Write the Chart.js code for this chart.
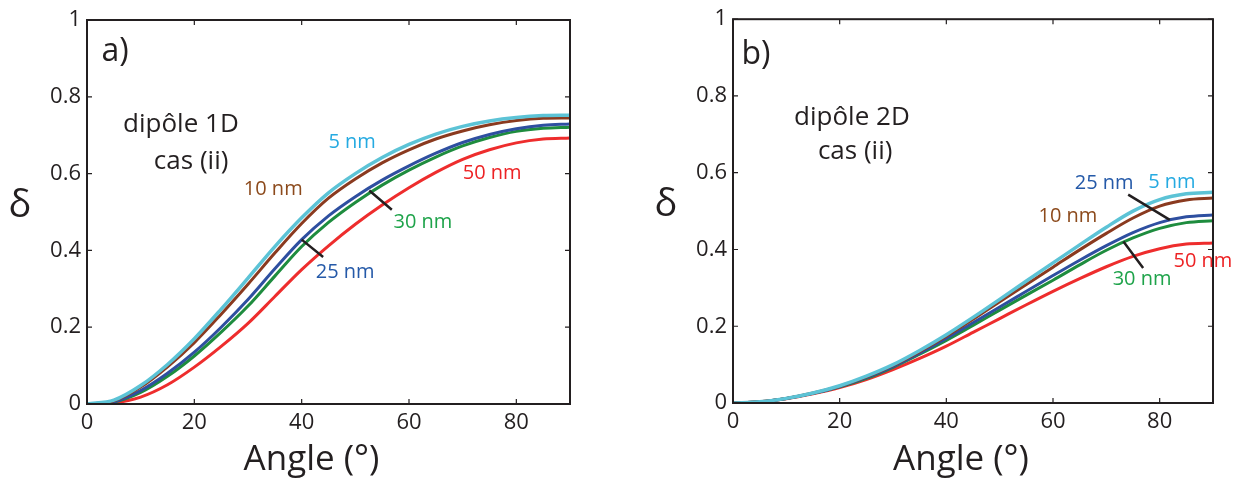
<!DOCTYPE html>
<html>
<head>
<meta charset="utf-8">
<script src="https://cdn.jsdelivr.net/npm/chart.js@4.4.0/dist/chart.umd.min.js"></script>
<style>
  html, body { margin: 0; padding: 0; background: #fff; }
  canvas { position: absolute; top: 0; }
  #chart1D { left: 0; }
  #chart2D { left: 620px; }
</style>
</head>
<body>
<canvas id="chart1D" width="620" height="485"></canvas>
<canvas id="chart2D" width="620" height="485"></canvas>
<script>
// angles (deg) and tick values
const angles = [0, 5, 10, 15, 20, 25, 30, 35, 40, 45, 50, 55, 60, 65, 70, 75, 80, 85, 90];
const xTicks = [0, 20, 40, 60, 80];
const yTicks = [0, 0.2, 0.4, 0.6, 0.8, 1];
const sizeNames = ["5 nm", "10 nm", "25 nm", "30 nm", "50 nm"];

// dipôle 1D, cas (ii)
const d1D_5nm  = [0, 0.010, 0.048, 0.103, 0.170, 0.247, 0.328, 0.410, 0.485, 0.550, 0.600, 0.642, 0.676, 0.703, 0.723, 0.737, 0.746, 0.751, 0.752];
const d1D_10nm = [0, 0.008, 0.044, 0.097, 0.160, 0.234, 0.312, 0.393, 0.470, 0.536, 0.586, 0.628, 0.662, 0.690, 0.711, 0.727, 0.738, 0.744, 0.745];
const d1D_25nm = [0, 0.006, 0.035, 0.080, 0.135, 0.200, 0.272, 0.352, 0.428, 0.490, 0.540, 0.583, 0.620, 0.653, 0.681, 0.702, 0.717, 0.726, 0.729];
const d1D_30nm = [0, 0.005, 0.030, 0.072, 0.125, 0.187, 0.255, 0.333, 0.410, 0.473, 0.525, 0.570, 0.609, 0.643, 0.672, 0.694, 0.710, 0.718, 0.721];
const d1D_50nm = [0, 0.003, 0.018, 0.050, 0.096, 0.150, 0.210, 0.280, 0.350, 0.412, 0.468, 0.518, 0.563, 0.603, 0.637, 0.662, 0.680, 0.690, 0.693];

// dipôle 2D, cas (ii)
const d2D_5nm  = [0, 0.003, 0.012, 0.026, 0.045, 0.070, 0.100, 0.137, 0.178, 0.223, 0.270, 0.318, 0.365, 0.412, 0.458, 0.500, 0.530, 0.545, 0.549];
const d2D_10nm = [0, 0.003, 0.012, 0.026, 0.044, 0.068, 0.098, 0.134, 0.174, 0.218, 0.264, 0.309, 0.354, 0.399, 0.442, 0.482, 0.513, 0.529, 0.534];
const d2D_25nm = [0, 0.003, 0.012, 0.025, 0.043, 0.066, 0.095, 0.130, 0.168, 0.209, 0.250, 0.291, 0.332, 0.372, 0.410, 0.444, 0.470, 0.485, 0.490];
const d2D_30nm = [0, 0.003, 0.012, 0.025, 0.042, 0.064, 0.093, 0.127, 0.163, 0.202, 0.242, 0.281, 0.320, 0.360, 0.398, 0.430, 0.455, 0.470, 0.475];
const d2D_50nm = [0, 0.003, 0.011, 0.024, 0.040, 0.061, 0.087, 0.116, 0.148, 0.184, 0.220, 0.256, 0.291, 0.324, 0.355, 0.382, 0.402, 0.414, 0.417];

const ink = "#231f20";
const font = "'Open Sans', sans-serif";
const lineColors = ["#5cc3d6", "#8a3a1f", "#2e4fa0", "#1e8c3e", "#ee2d2d"];
const textColors = ["#25aae1", "#8c4a1c", "#2459a8", "#1ea34a", "#ed2224"];

function makeDatasets(series) {
  // cyan (5 nm) first so it is drawn on top
  return series.map((vals, i) => ({
    label: sizeNames[i],
    data: angles.map((a, k) => ({ x: a, y: vals[k] })),
    borderColor: lineColors[i],
    borderWidth: i === 0 ? 3.5 : 3,
    pointRadius: 0,
    cubicInterpolationMode: "monotone",
    fill: false,
  }));
}

// draws the box, inward ticks, labels, pointers and titles
const decorPlugin = {
  id: "decor",
  afterDatasetsDraw(chart, args, opts) {
    const { ctx, chartArea: a } = chart;
    const x = chart.scales.x, y = chart.scales.y;
    ctx.save();
    ctx.strokeStyle = ink;
    ctx.lineWidth = 2;
    ctx.strokeRect(a.left, a.top, a.right - a.left, a.bottom - a.top);

    ctx.lineWidth = 1.2;
    ctx.beginPath();
    xTicks.forEach((v) => {
      const px = x.getPixelForValue(v);
      ctx.moveTo(px, a.bottom); ctx.lineTo(px, a.bottom - 5);
      ctx.moveTo(px, a.top); ctx.lineTo(px, a.top + 5);
    });
    yTicks.forEach((v) => {
      const py = y.getPixelForValue(v);
      ctx.moveTo(a.left, py); ctx.lineTo(a.left + 5, py);
      ctx.moveTo(a.right, py); ctx.lineTo(a.right - 5, py);
    });
    ctx.stroke();

    // pointer lines
    ctx.lineWidth = 2.5;
    ctx.beginPath();
    opts.pointers.forEach((p) => {
      ctx.moveTo(x.getPixelForValue(p[0]), y.getPixelForValue(p[1]));
      ctx.lineTo(x.getPixelForValue(p[2]), y.getPixelForValue(p[3]));
    });
    ctx.stroke();

    ctx.textBaseline = "middle";
    // series labels
    ctx.textAlign = "center";
    ctx.font = "20px " + font;
    opts.labels.forEach((l) => {
      ctx.fillStyle = textColors[l.s];
      ctx.fillText(sizeNames[l.s], x.getPixelForValue(l.x), y.getPixelForValue(l.y));
    });

    // caption
    ctx.fillStyle = ink;
    ctx.font = "26px " + font;
    opts.caption.forEach((c) => {
      ctx.fillText(c.t, x.getPixelForValue(c.x), y.getPixelForValue(c.y));
    });

    // panel letter
    ctx.textAlign = "left";
    ctx.font = "32px " + font;
    ctx.fillText(opts.panel.t, x.getPixelForValue(opts.panel.x), y.getPixelForValue(opts.panel.y));

    // axis titles
    ctx.textAlign = "center";
    ctx.font = "35px " + font;
    ctx.fillText("Angle (°)", (a.left + a.right) / 2 + opts.xTitleShift, 460);
    ctx.font = "38px " + font;
    ctx.fillText("δ", a.left - 67, (a.top + a.bottom) / 2 - 6);
    ctx.restore();
  },
};

function makeChart(id, series, area, decor) {
  const ctx = document.getElementById(id);
  return new Chart(ctx, {
    type: "line",
    data: { datasets: makeDatasets(series) },
    options: {
      responsive: false,
      animation: false,
      layout: { padding: { top: area.top, right: area.right, left: 0, bottom: 0 } },
      scales: {
        x: {
          type: "linear",
          min: 0,
          max: 90,
          afterBuildTicks: (s) => { s.ticks = xTicks.map((v) => ({ value: v })); },
          afterFit: (s) => { s.height = area.xh; },
          grid: { display: false, drawTicks: false },
          border: { display: false },
          ticks: { color: ink, font: { family: font, size: 22 }, padding: 6, maxRotation: 0,
                   callback: (v) => String(v) },
        },
        y: {
          min: 0,
          max: 1,
          afterBuildTicks: (s) => { s.ticks = yTicks.map((v) => ({ value: v })); },
          afterFit: (s) => { s.width = area.yw; },
          grid: { display: false, drawTicks: false },
          border: { display: false },
          ticks: { color: ink, font: { family: font, size: 22 }, padding: 6,
                   callback: (v) => String(v) },
        },
      },
      plugins: {
        legend: { display: false },
        tooltip: { enabled: false },
        decor: decor,
      },
    },
    plugins: [decorPlugin],
  });
}

makeChart("chart1D", [d1D_5nm, d1D_10nm, d1D_25nm, d1D_30nm, d1D_50nm],
  { top: 20, right: 50, xh: 81, yw: 87 },
  {
    panel: { t: "a)", x: 2.7, y: 0.918 },
    caption: [{ t: "dipôle 1D", x: 17.5, y: 0.727 }, { t: "cas (ii)", x: 19.4, y: 0.632 }],
    labels: [
      { s: 0, x: 49.4, y: 0.681 },
      { s: 1, x: 34.7, y: 0.558 },
      { s: 2, x: 48.1, y: 0.342 },
      { s: 3, x: 62.6, y: 0.472 },
      { s: 4, x: 75.5, y: 0.602 },
    ],
    pointers: [[40.0, 0.428, 44.0, 0.383], [52.6, 0.556, 56.8, 0.506]],
    xTitleShift: -17,
  });

makeChart("chart2D", [d2D_5nm, d2D_10nm, d2D_25nm, d2D_30nm, d2D_50nm],
  { top: 16, right: 27, xh: 82, yw: 113 },
  {
    panel: { t: "b)", x: 1.6, y: 0.908 },
    caption: [{ t: "dipôle 2D", x: 22.3, y: 0.744 }, { t: "cas (ii)", x: 22.9, y: 0.654 }],
    labels: [
      { s: 0, x: 82.3, y: 0.574 },
      { s: 1, x: 62.8, y: 0.486 },
      { s: 2, x: 69.6, y: 0.572 },
      { s: 3, x: 76.7, y: 0.323 },
      { s: 4, x: 88.1, y: 0.370 },
    ],
    pointers: [[74.1, 0.543, 81.9, 0.477], [73.2, 0.421, 76.9, 0.352]],
    xTitleShift: -12,
  });
</script>
</body>
</html>
